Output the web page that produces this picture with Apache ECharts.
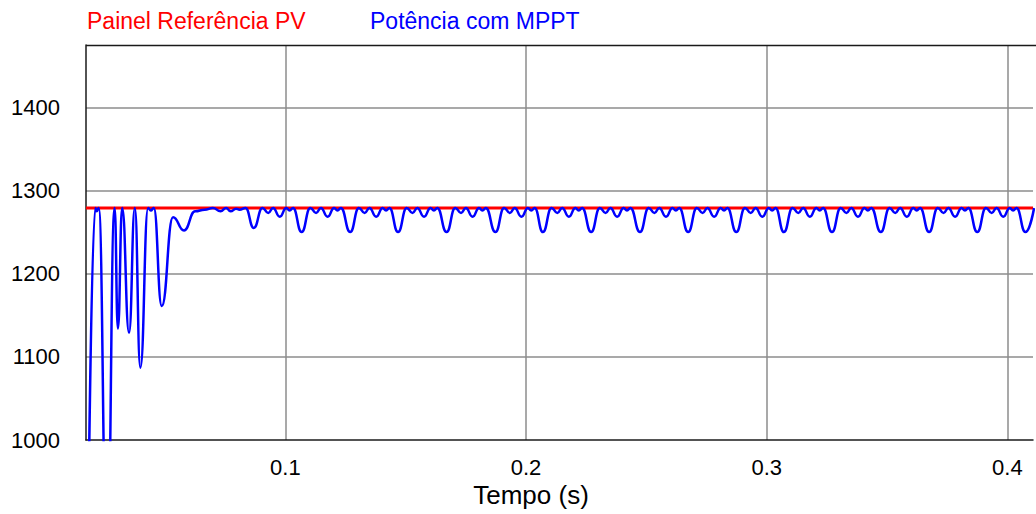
<!DOCTYPE html>
<html>
<head>
<meta charset="utf-8">
<script src="https://cdn.jsdelivr.net/npm/echarts@6/dist/echarts.min.js"></script>
<style>html,body{margin:0;padding:0;background:#fff;}#c{width:1036px;height:514px;}</style>
</head>
<body>
<div id="c"></div>
<script>
// ---- data ----
const xRange = [0.01715, 0.41065];
const yRange = [1000, 1475];
const xTickValues = [0.1, 0.2, 0.3, 0.4];
const xTickLabels = ['0.1', '0.2', '0.3', '0.4'];
const yTickValues = [1000, 1100, 1200, 1300, 1400];
const seriesNames = ['Painel Referência PV', 'Potência com MPPT'];
const refPower = 1279;
// blue curve: turning points (time in s, power in W)
const mpptTime = [
  0.01715, 0.02100, 0.02158, 0.02241, 0.02593, 0.02904, 0.03041, 0.03219, 0.03504, 0.03745,
  0.03973, 0.04296, 0.04408, 0.04532, 0.04863, 0.05331, 0.05787, 0.06251, 0.06645, 0.06988,
  0.07307, 0.07535, 0.07722, 0.07949, 0.08094, 0.08343,
  0.08687, 0.09047, 0.09287, 0.09487, 0.09767, 0.10037, 0.10177, 0.10317,
  0.10675, 0.11035, 0.11275, 0.11475, 0.11755, 0.12025, 0.12165, 0.12305,
  0.12693, 0.13053, 0.13293, 0.13493, 0.13773, 0.14043, 0.14183, 0.14323,
  0.14681, 0.15041, 0.15281, 0.15481, 0.15761, 0.16031, 0.16171, 0.16311,
  0.16698, 0.17058, 0.17298, 0.17498, 0.17778, 0.18048, 0.18188, 0.18328,
  0.18728, 0.19088, 0.19328, 0.19528, 0.19808, 0.20078, 0.20218, 0.20358,
  0.20700, 0.21060, 0.21300, 0.21500, 0.21780, 0.22050, 0.22190, 0.22330,
  0.22705, 0.23065, 0.23305, 0.23505, 0.23785, 0.24055, 0.24195, 0.24335,
  0.24735, 0.25095, 0.25335, 0.25535, 0.25815, 0.26085, 0.26225, 0.26365,
  0.26736, 0.27096, 0.27336, 0.27536, 0.27816, 0.28086, 0.28226, 0.28366,
  0.28737, 0.29097, 0.29337, 0.29537, 0.29817, 0.30087, 0.30227, 0.30367,
  0.30713, 0.31073, 0.31313, 0.31513, 0.31793, 0.32063, 0.32203, 0.32343,
  0.32713, 0.33073, 0.33313, 0.33513, 0.33793, 0.34063, 0.34203, 0.34343,
  0.34743, 0.35103, 0.35343, 0.35543, 0.35823, 0.36093, 0.36233, 0.36373,
  0.36748, 0.37108, 0.37348, 0.37548, 0.37828, 0.38098, 0.38238, 0.38378,
  0.38749, 0.39109, 0.39349, 0.39549, 0.39829, 0.40099, 0.40239, 0.40379,
  0.40750, 0.41110
];
const mpptPower = [
  640, 1279, 1275, 1279, 850, 1279, 1134, 1279, 1129, 1279,
  1087, 1279, 1276, 1279, 1161, 1268, 1252, 1275, 1277, 1279,
  1275, 1279, 1275, 1278, 1277, 1279,
  1255, 1279, 1273, 1279, 1268.5, 1279, 1276, 1279,
  1250, 1279, 1273, 1279, 1268.5, 1279, 1276, 1279,
  1250, 1279, 1273, 1279, 1268.5, 1279, 1276, 1279,
  1250, 1279, 1273, 1279, 1268.5, 1279, 1276, 1279,
  1250, 1279, 1273, 1279, 1268.5, 1279, 1276, 1279,
  1250, 1279, 1273, 1279, 1268.5, 1279, 1276, 1279,
  1250, 1279, 1273, 1279, 1268.5, 1279, 1276, 1279,
  1250, 1279, 1273, 1279, 1268.5, 1279, 1276, 1279,
  1250, 1279, 1273, 1279, 1268.5, 1279, 1276, 1279,
  1250, 1279, 1273, 1279, 1268.5, 1279, 1276, 1279,
  1250, 1279, 1273, 1279, 1268.5, 1279, 1276, 1279,
  1250, 1279, 1273, 1279, 1268.5, 1279, 1276, 1279,
  1250, 1279, 1273, 1279, 1268.5, 1279, 1276, 1279,
  1250, 1279, 1273, 1279, 1268.5, 1279, 1276, 1279,
  1250, 1279, 1273, 1279, 1268.5, 1279, 1276, 1279,
  1250, 1279, 1273, 1279, 1268.5, 1279, 1276, 1279,
  1250, 1279
];

// ---- chart ----
const FONT = '"Liberation Sans", Arial, sans-serif';
const chart = echarts.init(document.getElementById('c'), null, {renderer: 'svg'});
const mpptData = mpptTime.map((t, i) => [t, mpptPower[i]]);
const refData = xRange.map(t => [t, refPower]);

chart.setOption({
  animation: false,
  backgroundColor: '#ffffff',
  grid: {left: 86, right: 0, top: 45, bottom: 74, containLabel: false},
  xAxis: {
    type: 'value', min: xRange[0], max: xRange[1], splitNumber: 4,
    axisLine: {show: true, onZero: false, lineStyle: {color: '#1a1a1a', width: 1.5}},
    axisTick: {show: false},
    axisLabel: {
      fontSize: 22, color: '#000', fontFamily: FONT, margin: 16,
      formatter: v => { const i = xTickValues.findIndex(t => Math.abs(t - v) < 1e-9); return i >= 0 ? xTickLabels[i] : ''; }
    },
    splitLine: {show: true, showMinLine: false, showMaxLine: false, lineStyle: {color: '#8c8c8c', width: 1.5}}
  },
  yAxis: {
    type: 'value', min: yRange[0], max: yRange[1], interval: 100,
    axisLine: {show: true, onZero: false, lineStyle: {color: '#1a1a1a', width: 1.5}},
    axisTick: {show: false},
    axisLabel: {
      fontSize: 22, color: '#000', fontFamily: FONT, margin: 26,
      formatter: v => yTickValues.includes(v) ? String(v) : ''
    },
    splitLine: {show: true, showMinLine: false, showMaxLine: false, lineStyle: {color: '#8c8c8c', width: 1.5}}
  },
  graphic: [
    {type: 'line', shape: {x1: 86, y1: 45.5, x2: 1036, y2: 45.5}, style: {stroke: '#1a1a1a', lineWidth: 1.5}, z: 100},
    {type: 'text', x: 87, y: 21, style: {text: seriesNames[0], fill: '#ff0000', font: '23px ' + FONT, textVerticalAlign: 'middle', verticalAlign: 'middle'}},
    {type: 'text', x: 370, y: 21, style: {text: seriesNames[1], fill: '#0000ff', font: '23px ' + FONT, textVerticalAlign: 'middle', verticalAlign: 'middle'}},
    {type: 'text', x: 531, y: 495, style: {text: 'Tempo (s)', fill: '#000', font: '26px ' + FONT, textAlign: 'center', align: 'center', textVerticalAlign: 'middle', verticalAlign: 'middle'}}
  ],
  series: [
    {name: seriesNames[0], type: 'line', data: refData, symbol: 'none', lineStyle: {color: '#ff0000', width: 3}, z: 2},
    {name: seriesNames[1], type: 'line', data: mpptData, symbol: 'none', smooth: 0.5, smoothMonotone: 'x', clip: true,
     lineStyle: {color: '#0000ff', width: 2.5}, z: 3}
  ]
});
</script>
</body>
</html>
